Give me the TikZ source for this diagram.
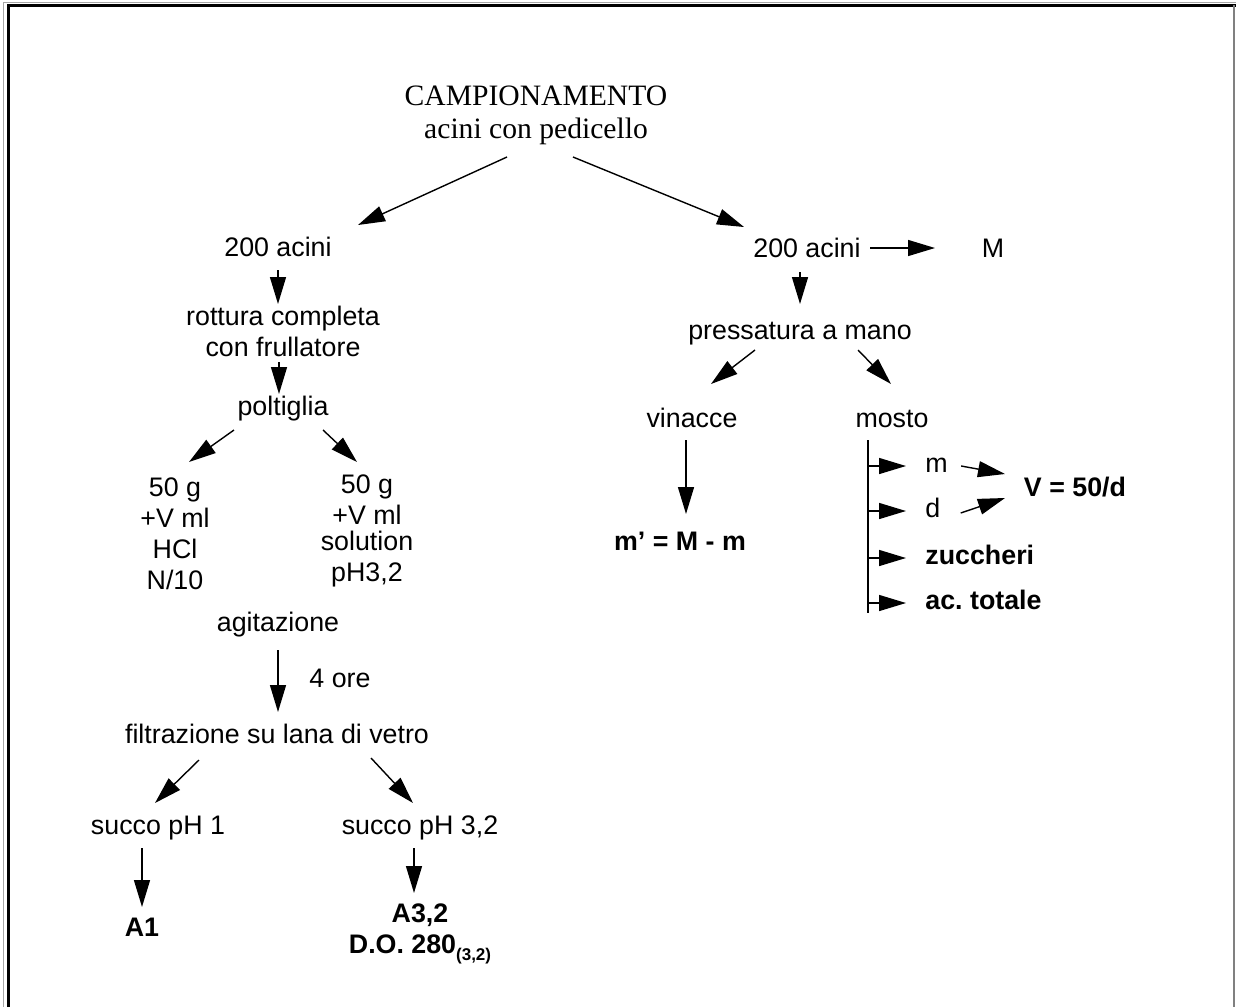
\documentclass[tikz,border=0pt]{standalone}
\usepackage{fontspec}
\setmainfont{Liberation Sans}
\newfontfamily\timesfont{Liberation Serif}
\usetikzlibrary{arrows.meta,calc}

\begin{document}
\frenchspacing
\begin{tikzpicture}[x=0.5pt,y=-0.5pt,
    lbl/.style={inner sep=0pt,font=\fontsize{13.4}{15.5}\selectfont,align=center},
    one/.style={lbl,text height=9.6pt,text depth=2.8pt},
    bld/.style={font=\fontsize{13.4}{15.5}\selectfont\bfseries},
    arr/.style={-{Triangle[length=13.5pt,width=8pt]},line width=0.7pt}]
	\useasboundingbox (0,0) rectangle (1236,1007);
	% cornice
	\draw[gray!70,line width=0.5pt] (3,1007) -- (3,2) -- (1236,2);
	\draw[line width=1.5pt] (8,1007) -- (8,5.5) -- (1236,5.5);
	\draw[gray,line width=0.6pt] (1234,5) -- (1234,1007);

	\node[lbl,font=\timesfont\fontsize{14.8}{16.5}\selectfont] (camp) at (536,115) {CAMPIONAMENTO\\acini con pedicello};

	% ramo sinistro
	\node[one] (l200) at (278,250) {200 acini};
	\node[lbl] (rott) at (283,331) {rottura completa\\con frullatore};
	\node[one] (polt) at (283,409) {poltiglia};
	\node[lbl] (hcl) at (175,534) {50 g\\+V ml\\HCl\\N/10};
	\node[lbl] (sol) at (367,531) {50 g\\+V ml\\[-2.5pt]solution\\pH3,2};
	\node[one] (agit) at (278,625) {agitazione};
	\node[one] (ore) at (340,681) {4 ore};
	\node[one] (filt) at (277,737) {filtrazione su lana di vetro};
	\node[one] (s1) at (158,828) {succo pH 1};
	\node[one] (s32) at (420,828) {succo pH 3,2};
	\node[one,bld] (a1) at (142,930) {A1};
	\node[lbl,bld] (a32) at (420,934) {A3,2\\D.O. 280\raisebox{-0.45ex}{\fontsize{8.5}{9}\selectfont(3,2)}};

	% ramo destro
	\node[one] (r200) at (807,251) {200 acini};
	\node[one] (M) at (993,251) {M};
	\node[one] (press) at (800,333) {pressatura a mano};
	\node[one] (vin) at (692,421) {vinacce};
	\node[one] (mosto) at (892,421) {mosto};
	\node[one,bld] (mprime) at (680,544) {m’ = M - m};
	\node[one,anchor=west] (mm) at (925,466) {m};
	\node[one,anchor=west] (dd) at (925,511) {d};
	\node[one,bld,anchor=west] (zuc) at (925,558) {zuccheri};
	\node[one,bld,anchor=west] (act) at (925,603) {ac. totale};
	\node[one,bld] (V) at (1075,490) {V = 50/d};
	\coordinate (mtop) at ($(mosto)+(-24,19)$);
	\coordinate (mbot) at (868,613);

	\draw[arr] ($(camp)+(-29,42)$) -- ($(l200)+(80,-25)$);
	\draw[arr] ($(camp)+(37,42)$) -- ($(r200)+(-63,-24)$);

	\draw[arr] ($(l200)+(0,20)$) -- ($(rott)+(-5,-27)$);
	\draw[arr] ($(rott)+(-4,31)$) -- ($(polt)+(-4,-15)$);
	\draw[arr] ($(polt)+(-49,21)$) -- ($(hcl)+(14,-72)$);
	\draw[arr] ($(polt)+(40,21)$) -- ($(sol)+(-10,-69)$);
	\draw[arr] ($(agit)+(0,25)$) -- ($(filt)+(1,-25)$);
	\draw[arr] ($(filt)+(-78,23)$) -- ($(s1)+(-3,-25)$);
	\draw[arr] ($(filt)+(94,21)$) -- ($(s32)+(-7,-25)$);
	\draw[arr] ($(s1)+(-16,20)$) -- ($(a1)+(0,-23)$);
	\draw[arr] ($(s32)+(-6,20)$) -- ($(a32)+(-6,-41)$);

	\draw[arr] ($(r200)+(63,-3)$) -- ($(M)+(-58,-3)$);
	\draw[arr] ($(r200)+(-7,21)$) -- ($(press)+(0,-29)$);
	\draw[arr] ($(press)+(-45,17)$) -- ($(vin)+(19,-37)$);
	\draw[arr] ($(press)+(58,17)$) -- ($(mosto)+(-1,-37)$);
	\draw[arr] ($(vin)+(-6,19)$) -- ($(mprime)+(6,-30)$);
	\draw[line width=1pt] (mtop) -- (mbot);
	\foreach \n in {mm,dd,zuc,act}
		\draw[arr] (\n.west -| mtop) -- ([xshift=-9.5pt]\n.west);
	\draw[arr] ($(mm.east)+(13,0)$) -- ($(V)+(-70,-16)$);
	\draw[arr] ($(dd.east)+(20,2)$) -- ($(V)+(-70,8)$);
\end{tikzpicture}
\end{document}
